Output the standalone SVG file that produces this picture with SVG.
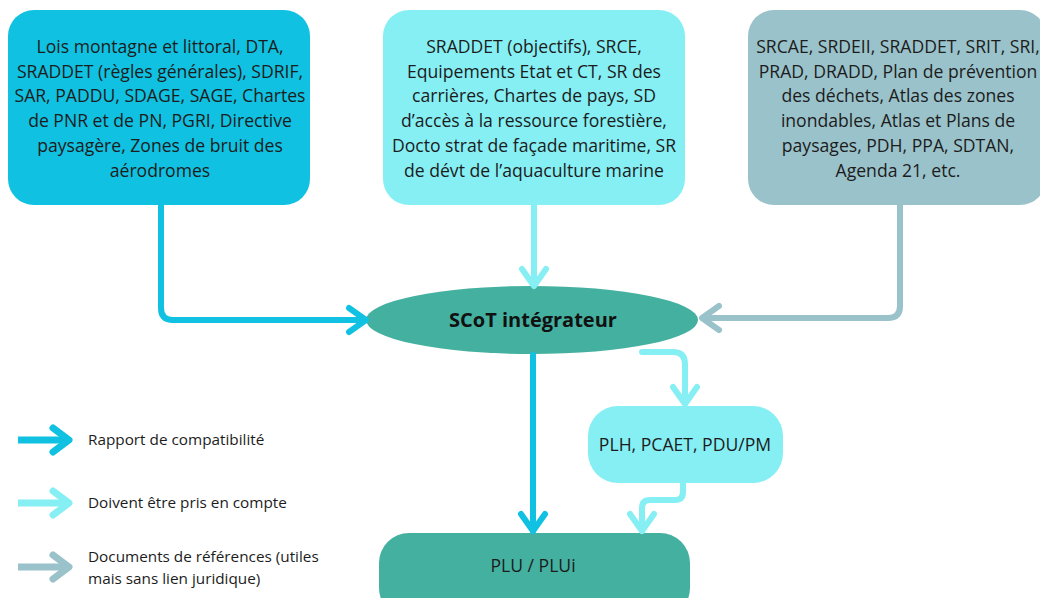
<svg xmlns="http://www.w3.org/2000/svg" width="1040" height="598" viewBox="0 0 1040 598">
<style>
text{font-family:"Open Sans","Noto Sans","Liberation Sans",sans-serif;fill:#1c1c1c}
.t{font-size:17.6px;text-anchor:middle}
.lg{font-size:15.3px}
.c{fill:none;stroke-width:6;stroke-linecap:round;stroke-linejoin:round}
.b{stroke:#10C1E1}
.l{stroke:#86EFF4}
.g{stroke:#9AC2CA}
</style>
<rect width="1040" height="598" fill="#ffffff"/>
<g id="node-left">
<rect x="8" y="10" width="302" height="195" rx="26" fill="#10C1E1"/>
<text class="t" x="160"><tspan x="160" y="53">Lois montagne et littoral, DTA,</tspan><tspan x="160" y="77.7">SRADDET (règles générales), SDRIF,</tspan><tspan x="160" y="102.4">SAR, PADDU, SDAGE, SAGE, Chartes</tspan><tspan x="160" y="127.1">de PNR et de PN, PGRI, Directive</tspan><tspan x="160" y="151.8">paysagère, Zones de bruit des</tspan><tspan x="160" y="176.5">aérodromes</tspan></text>
</g>
<g id="node-middle">
<rect x="383" y="10" width="302" height="195" rx="26" fill="#86EFF4"/>
<text class="t"><tspan x="534" y="53">SRADDET (objectifs), SRCE,</tspan><tspan x="534" y="77.7">Equipements Etat et CT, SR des</tspan><tspan x="534" y="102.4">carrières, Chartes de pays, SD</tspan><tspan x="534" y="127.1">d’accès à la ressource forestière,</tspan><tspan x="534" y="151.8">Docto strat de façade maritime, SR</tspan><tspan x="534" y="176.5">de dévt de l’aquaculture marine</tspan></text>
</g>
<g id="node-right">
<rect x="748" y="10" width="298" height="195" rx="26" fill="#9AC2CA"/>
<text class="t"><tspan x="898" y="53">SRCAE, SRDEII, SRADDET, SRIT, SRI,</tspan><tspan x="898" y="77.7">PRAD, DRADD, Plan de prévention</tspan><tspan x="898" y="102.4">des déchets, Atlas des zones</tspan><tspan x="898" y="127.1">inondables, Atlas et Plans de</tspan><tspan x="898" y="151.8">paysages, PDH, PPA, SDTAN,</tspan><tspan x="898" y="176.5">Agenda 21, etc.</tspan></text>
</g>
<g id="node-scot">
<ellipse cx="532" cy="320" rx="166" ry="34" fill="#44B0A0"/>
<text class="t" x="533" y="327" style="font-size:20px;font-weight:700;fill:#111">SCoT intégrateur</text>
</g>
<g id="node-plh">
<rect x="588" y="406" width="195" height="77" rx="30" fill="#86EFF4"/>
<text class="t" x="685" y="451">PLH, PCAET, PDU/PM</text>
</g>
<g id="node-plu">
<rect x="379" y="533" width="311" height="85" rx="30" fill="#44B0A0"/>
<text class="t" x="533" y="572">PLU / PLUi</text>
</g>
<g id="connectors">
<path class="c b" d="M161,205 V308 Q161,320 173,320 H364"/>
<polyline class="c b" points="349,308 366,320 349,332"/>
<path class="c l" d="M534,205 V284"/>
<polyline class="c l" points="522,269 534,286 546,269"/>
<path class="c g" d="M900,205 V306 Q900,318 888,318 H704"/>
<polyline class="c g" points="719,306 702,318 719,330"/>
<path class="c l" d="M642,352 H673 Q685,352 685,364 V402"/>
<polyline class="c l" points="673,387 685,404 697,387"/>
<path class="c b" d="M533,355 V531"/>
<polyline class="c b" points="521,514 533,531 545,514"/>
<path class="c l" d="M683,483 V492 Q683,500 675,500 H650 Q642,500 642,508 V531"/>
<polyline class="c l" points="630,514 642,531 654,514"/>
</g>
<g id="legend">
<path class="c b" d="M18,440 H67" style="stroke-width:7;stroke-linecap:butt"/>
<polyline class="c b" points="53,428 69,440 53,452" style="stroke-width:7"/>
<text class="lg" x="88" y="445">Rapport de compatibilité</text>
<path class="c l" d="M18,503 H67" style="stroke-width:7;stroke-linecap:butt"/>
<polyline class="c l" points="53,491 69,503 53,515" style="stroke-width:7"/>
<text class="lg" x="88" y="508">Doivent être pris en compte</text>
<path class="c g" d="M18,567 H67" style="stroke-width:7;stroke-linecap:butt"/>
<polyline class="c g" points="53,555 69,567 53,579" style="stroke-width:7"/>
<text class="lg"><tspan x="88" y="562">Documents de références (utiles</tspan><tspan x="88" y="584">mais sans lien juridique)</tspan></text>
</g>
</svg>
